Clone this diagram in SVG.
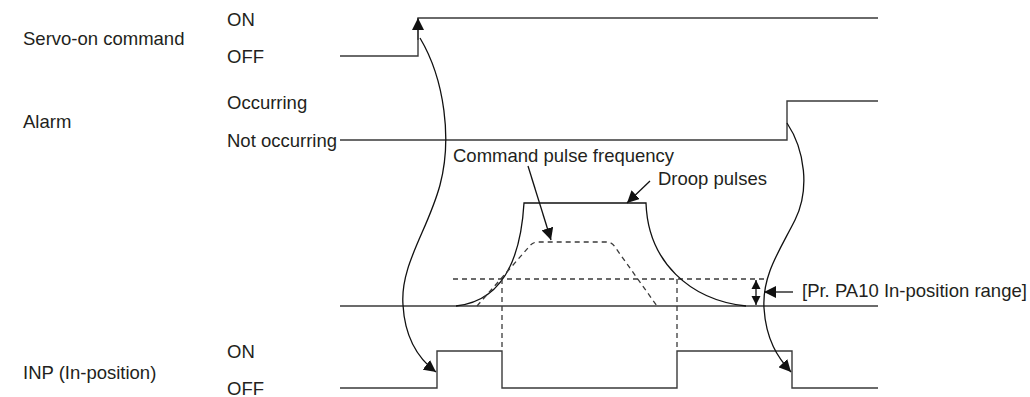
<svg xmlns="http://www.w3.org/2000/svg" width="1030" height="397" viewBox="0 0 1030 397">
<style>
text{font-family:"Liberation Sans",Arial,sans-serif;font-size:18.5px;fill:#231f20}
.sig{fill:none;stroke:#3a3a3a;stroke-width:1.4}
.dash{fill:none;stroke:#3a3a3a;stroke-width:1.3;stroke-dasharray:5 4}
.cur{fill:none;stroke:#111;stroke-width:1.3}
</style>
<defs>
<marker id="ah" viewBox="0 0 12 12" refX="12" refY="6" markerWidth="12" markerHeight="12" markerUnits="userSpaceOnUse" orient="auto">
<path d="M0,0 L12,6 L0,12 Z" fill="#111"/>
</marker>
<marker id="ahs" viewBox="0 0 10 10" refX="10" refY="5" markerWidth="9" markerHeight="10" markerUnits="userSpaceOnUse" orient="auto-start-reverse">
<path d="M0,0 L10,5 L0,10 Z" fill="#111"/>
</marker>
</defs>
<g id="labels">
<text x="23" y="45">Servo-on command</text>
<text x="227" y="26">ON</text>
<text x="227" y="63">OFF</text>
<text x="23" y="128">Alarm</text>
<text x="227" y="109">Occurring</text>
<text x="227" y="147">Not occurring</text>
<text x="23" y="379">INP (In-position)</text>
<text x="227" y="358">ON</text>
<text x="227" y="395">OFF</text>
<text x="453" y="162">Command pulse frequency</text>
<text x="658" y="185">Droop pulses</text>
<text x="802" y="297">[Pr. PA10 In-position range]</text>
</g>
<g id="servo-on">
<path class="sig" d="M340,56 H418 V18 H878"/>
</g>
<g id="alarm">
<path class="sig" d="M340,140 H787 V101 H878"/>
</g>
<g id="pulses">
<path class="sig" d="M340,306 H878"/>
<path class="dash" d="M453,279 H767"/>
<path class="cur" d="M456,306 C495,302 520,270 524,203 H646 C648,262 690,300 746,306"/>
<path class="dash" d="M477,306 L528,248 Q532,242 538,242 H606 Q612,242 615,247 L657,306"/>
<path class="dash" d="M502,279 V351 M677,279 V351"/>
</g>
<g id="inp">
<path class="sig" d="M340,388 H437 V351 H502 V388 H677 V351 H792 V388 H878"/>
</g>
<g id="connectors">
<path class="sig" d="M418,40 V18" marker-end="url(#ah)"/>
<path class="cur" d="M420,38 C445,80 452,140 440,185 C428,230 400,265 403,305 C405,340 420,360 436,372" marker-end="url(#ah)"/>
<path class="cur" d="M787,123 C805,150 810,190 795,220 C780,250 762,275 764,308 C766,340 778,358 791,372" marker-end="url(#ah)"/>
<path class="cur" d="M528,166 L551,240" marker-end="url(#ah)"/>
<path class="cur" d="M650,181 L627,203" marker-end="url(#ah)"/>
<path class="cur" d="M756,280 V305" marker-start="url(#ahs)" marker-end="url(#ahs)"/>
<path class="cur" d="M793,292 H764" marker-end="url(#ah)"/>
</g>
</svg>
